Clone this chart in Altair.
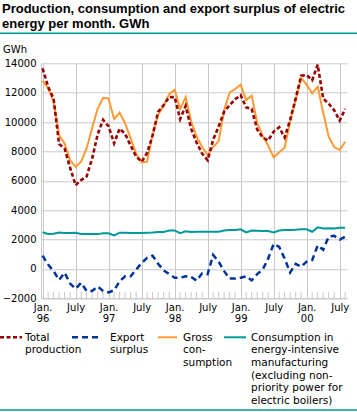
import json
import altair as alt
import pandas as pd

# ---------------- data (monthly, Jan 1996 - Aug 2000) ----------------
months = list(range(56))
total_production = [13650, 12400, 11600, 8500, 8200, 6900, 5700, 6050, 6300, 7500, 9150, 10150,
                    9700, 8550, 9550, 9200, 8400, 7650, 7300, 7900, 9100, 10700, 11150, 11700,
                    11700, 10200, 11100, 9550, 8600, 7850, 7400, 8800, 9700, 10700, 11150, 11550,
                    11830, 11000, 10900, 9500, 8950, 8750, 9350, 9650, 8950, 10150, 11600, 13150,
                    13200, 12850, 13900, 11600, 11250, 10800, 10100, 10900]
export_surplus = [900, 300, -150, -750, -250, -1000, -1350, -950, -1500, -1500, -1200, -1500,
                  -1600, -1450, -850, -500, -500, -50, 400, 750, 900, 350, -100, -350,
                  -600, -600, -500, -550, -800, -300, -350, 950, 500, -150, -650, -650,
                  -600, -500, -780, -350, -50, 700, 1700, 1500, 700, -250, 350, 150,
                  500, 600, 1600, 1300, 2200, 2250, 2000, 2200]
gross_consumption = [12800, 12300, 11400, 9100, 8550, 7400, 6950, 7300, 8200, 9600, 10900, 11650,
                     11600, 10200, 10650, 9900, 8900, 7850, 7250, 7300, 9150, 10500, 11100, 11900,
                     12200, 10900, 11700, 10050, 9000, 8300, 7750, 8300, 8700, 10800, 12000, 12250,
                     12550, 11500, 11800, 9950, 9050, 8400, 7600, 7950, 8250, 10050, 11500, 13000,
                     12550, 11950, 12400, 10650, 9000, 8300, 8100, 8650]
energy_intensive = [2500, 2380, 2400, 2480, 2450, 2440, 2460, 2380, 2370, 2370, 2370, 2430,
                    2430, 2280, 2470, 2460, 2440, 2440, 2440, 2460, 2480, 2510, 2520, 2610,
                    2620, 2440, 2560, 2520, 2530, 2530, 2530, 2530, 2530, 2620, 2650, 2650,
                    2700, 2490, 2620, 2600, 2580, 2580, 2490, 2620, 2650, 2650, 2660, 2700,
                    2700, 2530, 2830, 2760, 2770, 2760, 2800, 2800]

series_names = ["Total production", "Export surplus", "Gross consumption",
                "Consumption in energy-intensive manufacturing"]
tick_months = [0, 6, 12, 18, 24, 30, 36, 42, 48, 54]
tick_labels = [["Jan.", "96"], "July", ["Jan.", "97"], "July", ["Jan.", "98"], "July",
               ["Jan.", "99"], "July", ["Jan.", "00"], "July"]
y_ticks = [-2000, 0, 2000, 4000, 6000, 8000, 10000, 12000, 14000]
minor_months = [m for m in months if m % 6 != 0]

title_lines = ["Production, consumption and export surplus of electric",
               "energy per month. GWh"]
unit_label = "GWh"
legend_labels = [["Total", "production"],
                 ["Export", "surplus"],
                 ["Gross", "con-", "sumption"],
                 ["Consumption in", "energy-intensive", "manufacturing", "(excluding non-",
                  "priority power for", "electric boilers)"]]

# ---------------- styles ----------------
RED, BLUE, ORANGE, TEAL = "#990000", "#003399", "#FF9933", "#009999"
GRID = "#C8C8C8"
FONT = "DejaVu Sans"
W, H = 306, 235
PAD = {"left": 41, "top": 63.3, "right": 10, "bottom": 113.7}

df = pd.DataFrame({
    "month": months * 4,
    "value": total_production + export_surplus + gross_consumption + energy_intensive,
    "series": sum([[s] * len(months) for s in series_names], []),
})
minor_df = pd.DataFrame({"month": minor_months})
one = alt.Data(values=[{"k": 0}])

xscale = alt.Scale(domain=[-0.29, 55.33], nice=False, zero=False)
yscale = alt.Scale(domain=[-2000, 14000], nice=False, zero=False)
xaxis = alt.Axis(values=tick_months,
                 labelExpr=json.dumps(tick_labels) + "[round(datum.value/6)]",
                 title=None, grid=True, gridColor=GRID, gridWidth=1, ticks=False,
                 domain=True, domainColor=GRID, labelFontSize=10, labelPadding=4,
                 labelLineHeight=10.8, labelBaseline="top", labelOverlap=False,
                 labelFlush=False, labelColor="black", labelFont=FONT)
yaxis = alt.Axis(values=y_ticks, title=None, grid=True, gridColor=GRID, gridWidth=1,
                 ticks=False, domain=True, domainColor=GRID, labelPadding=5,
                 labelFontSize=10, labelColor="black", labelFont=FONT, format="d")

x_enc = alt.X("month:Q", scale=xscale, axis=xaxis)
y_enc = alt.Y("value:Q", scale=yscale, axis=yaxis)


def line(name, color, width, dash=None):
    kw = dict(color=color, strokeWidth=width)
    if dash:
        kw["strokeDash"] = dash
    return (alt.Chart(df).transform_filter(alt.datum.series == name)
            .mark_line(**kw).encode(x=x_enc, y=y_enc))


def text(t, x, y, size=10, weight="normal", lh=12.7):
    return alt.Chart(one).mark_text(text=t, align="left", baseline="alphabetic",
                                    fontSize=size, fontWeight=weight, font=FONT if weight == "normal" else "Liberation Sans",
                                    color="black", lineHeight=lh).encode(
        x=alt.value(x), y=alt.value(y))


def hrule(x1, x2, y, color, width, dash=None):
    kw = dict(color=color, strokeWidth=width)
    if dash:
        kw["strokeDash"] = dash
    return alt.Chart(one).mark_rule(**kw).encode(
        x=alt.value(x1), x2=alt.value(x2), y=alt.value(y))


minor = alt.Chart(minor_df).mark_rule(color=GRID, strokeWidth=1).encode(
    x=alt.X("month:Q", scale=xscale, axis=xaxis), y=alt.value(H), y2=alt.value(H - 6.5))

layers = [
    minor,
    line(series_names[3], TEAL, 2),
    line(series_names[1], BLUE, 2.5, [6, 4]),
    line(series_names[2], ORANGE, 2),
    line(series_names[0], RED, 2.6, [4, 2.5]),
    # title and unit
    text(title_lines[0], -39, -50, size=13, weight="bold"),
    text(title_lines[1], -39, -35, size=13, weight="bold"),
    hrule(-41, 316, -30, TEAL, 1.6),
    text(unit_label, -38, -10.6, size=10),
    # legend
    hrule(-41, -19, 274, RED, 2.6, [4, 2.5]),
    text(legend_labels[0], -16, 277.4, size=10.5),
    hrule(31, 59, 274, BLUE, 2.5, [6, 4]),
    text(legend_labels[1], 69, 277.4, size=10.5),
    hrule(117, 136, 274, ORANGE, 2),
    text(legend_labels[2], 142, 277.4, size=10.5),
    hrule(183, 205, 274, TEAL, 2),
    text(legend_labels[3], 210, 277.4, size=10.5),
    hrule(-41, 316, 346.7, TEAL, 1.6),
]

chart = alt.layer(*layers).properties(
    width=W, height=H,
    autosize=alt.AutoSizeParams(type="none"),
    padding=PAD,
).configure(font=FONT).configure_view(strokeWidth=0)

chart.save("out.html", embed_options={"renderer": "svg", "actions": False})
